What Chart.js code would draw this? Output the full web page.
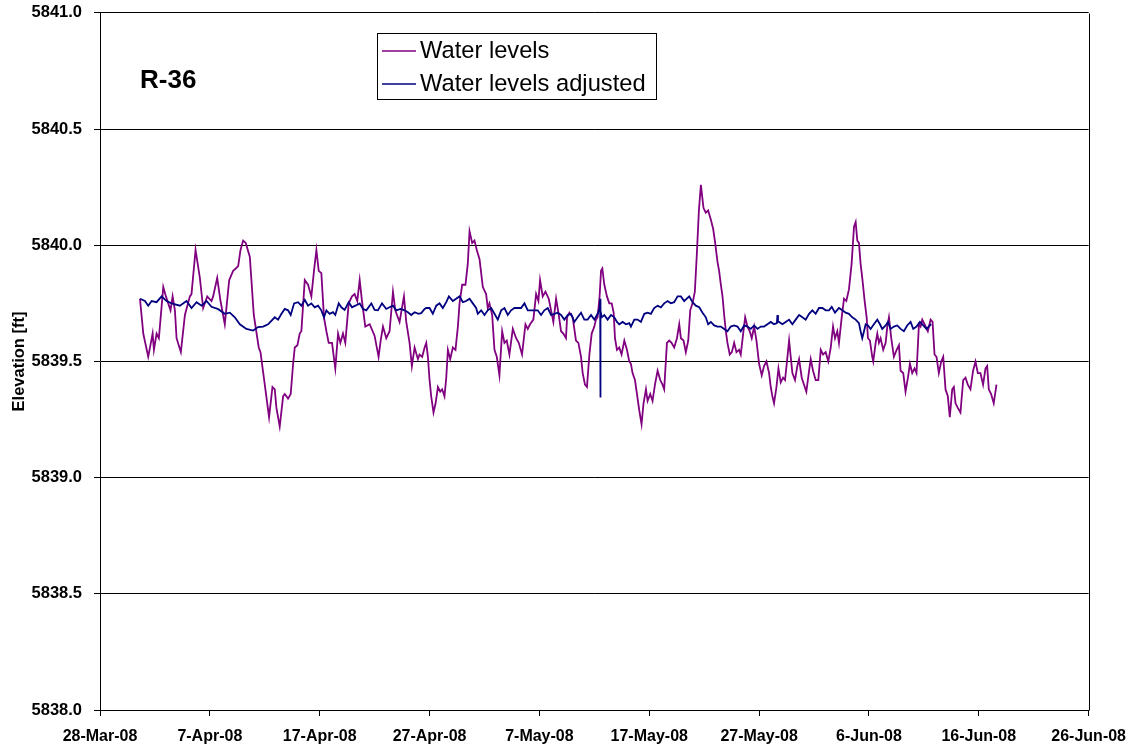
<!DOCTYPE html>
<html>
<head>
<meta charset="utf-8">
<title>R-36</title>
<script src="https://cdn.jsdelivr.net/npm/chart.js@4/dist/chart.umd.min.js"></script>
<style>
  html, body { margin: 0; padding: 0; background: #fff; overflow: hidden; }
  #wrap { position: relative; width: 1129px; height: 747px; overflow: hidden; }
  #chart { position: absolute; left: 0; top: -9px; }
</style>
</head>
<body>
<div id="wrap"><canvas id="chart" width="1137" height="756"></canvas></div>
<script>
// x values are days after 28-Mar-08
const tickDays = [0, 10, 20, 30, 40, 50, 60, 70, 80, 90];
const tickLabels = ['28-Mar-08', '7-Apr-08', '17-Apr-08', '27-Apr-08', '7-May-08',
  '17-May-08', '27-May-08', '6-Jun-08', '16-Jun-08', '26-Jun-08'];

const levelDays = [
  3.64, 3.94, 4.39, 4.79, 4.91, 5.15, 5.36, 5.76, 6.00, 6.42, 6.61, 6.82, 6.97, 7.36, 7.73, 8.18, 8.33, 8.70, 9.09, 9.39,
  9.76, 10.15, 10.30, 10.67, 10.97, 11.36, 11.76, 12.12, 12.36, 12.58, 12.79, 13.03, 13.27, 13.64, 14.00, 14.45, 14.61, 15.00, 15.39, 15.70,
  15.91, 16.06, 16.36, 16.67, 16.82, 17.12, 17.36, 17.58, 17.73, 17.97, 18.18, 18.33, 18.64, 18.94, 19.24, 19.48, 19.70, 19.91, 20.15, 20.39,
  20.61, 20.82, 21.12, 21.42, 21.67, 21.88, 22.12, 22.33, 22.64, 22.94, 23.18, 23.42, 23.64, 23.85, 24.15, 24.55, 25.00, 25.36, 25.55, 25.76,
  26.06, 26.36, 26.67, 26.88, 27.27, 27.67, 27.88, 28.18, 28.39, 28.64, 28.94, 29.09, 29.33, 29.55, 29.70, 29.85, 30.00, 30.15, 30.36, 30.55,
  30.76, 30.97, 31.15, 31.36, 31.52, 31.67, 31.88, 32.12, 32.36, 32.58, 32.73, 32.97, 33.27, 33.48, 33.64, 33.88, 34.09, 34.30, 34.55, 34.85,
  35.15, 35.30, 35.45, 35.70, 35.91, 36.12, 36.36, 36.61, 36.82, 37.03, 37.27, 37.58, 37.88, 38.12, 38.42, 38.73, 38.94, 39.15, 39.45, 39.70,
  39.91, 40.06, 40.30, 40.55, 40.85, 41.06, 41.27, 41.52, 41.76, 41.97, 42.18, 42.42, 42.52, 42.73, 43.03, 43.33, 43.55, 43.79, 43.94, 44.15,
  44.33, 44.55, 44.76, 45.00, 45.15, 45.30, 45.48, 45.61, 45.73, 45.91, 46.15, 46.36, 46.58, 46.76, 46.88, 47.06, 47.27, 47.48, 47.73, 47.97,
  48.18, 48.33, 48.48, 48.70, 48.88, 49.09, 49.30, 49.48, 49.70, 49.85, 50.09, 50.30, 50.52, 50.76, 51.00, 51.21, 51.36, 51.61, 51.82, 52.03,
  52.27, 52.52, 52.73, 52.88, 53.12, 53.33, 53.55, 53.73, 53.94, 54.15, 54.33, 54.52, 54.70, 54.94, 55.15, 55.36, 55.61, 55.82, 56.00, 56.21,
  56.36, 56.52, 56.67, 56.82, 56.97, 57.12, 57.33, 57.52, 57.73, 57.94, 58.18, 58.33, 58.55, 58.73, 58.94, 59.15, 59.33, 59.55, 59.76, 60.00,
  60.24, 60.45, 60.67, 60.91, 61.06, 61.21, 61.36, 61.58, 61.76, 61.97, 62.18, 62.36, 62.58, 62.73, 62.88, 63.03, 63.27, 63.48, 63.64, 63.88,
  64.09, 64.30, 64.55, 64.70, 64.91, 65.15, 65.39, 65.61, 65.82, 66.06, 66.30, 66.52, 66.73, 66.91, 67.12, 67.27, 67.52, 67.73, 67.94, 68.18,
  68.42, 68.64, 68.79, 68.94, 69.09, 69.24, 69.39, 69.61, 69.79, 69.91, 70.09, 70.30, 70.39, 70.61, 70.76, 70.91, 71.06, 71.30, 71.52, 71.67,
  71.82, 72.03, 72.27, 72.52, 72.73, 72.88, 73.12, 73.33, 73.55, 73.73, 73.94, 74.15, 74.33, 74.55, 74.70, 74.85, 75.06, 75.36, 75.61, 75.79,
  75.97, 76.15, 76.36, 76.58, 76.76, 76.97, 77.18, 77.36, 77.58, 77.73, 77.88, 78.09, 78.33, 78.58, 78.79, 79.00, 79.24, 79.48, 79.70, 79.91,
  80.15, 80.39, 80.61, 80.76, 80.91, 81.12, 81.36, 81.61
];
const levelValues = [
  5839.77, 5839.62, 5839.52, 5839.62, 5839.55, 5839.62, 5839.60, 5839.82, 5839.78, 5839.72, 5839.78, 5839.72, 5839.60, 5839.54, 5839.70, 5839.78, 5839.79, 5839.98, 5839.86, 5839.73,
  5839.78, 5839.76, 5839.78, 5839.86, 5839.76, 5839.66, 5839.85, 5839.89, 5839.90, 5839.91, 5839.98, 5840.02, 5840.01, 5839.95, 5839.70, 5839.56, 5839.54, 5839.40, 5839.26, 5839.39,
  5839.38, 5839.30, 5839.22, 5839.35, 5839.36, 5839.34, 5839.36, 5839.49, 5839.56, 5839.57, 5839.62, 5839.63, 5839.85, 5839.83, 5839.78, 5839.89, 5839.98, 5839.89, 5839.88, 5839.69,
  5839.63, 5839.58, 5839.58, 5839.47, 5839.62, 5839.58, 5839.62, 5839.58, 5839.75, 5839.78, 5839.79, 5839.76, 5839.85, 5839.76, 5839.65, 5839.66, 5839.61, 5839.52, 5839.59, 5839.65,
  5839.60, 5839.63, 5839.80, 5839.72, 5839.67, 5839.78, 5839.67, 5839.58, 5839.48, 5839.56, 5839.51, 5839.53, 5839.52, 5839.56, 5839.58, 5839.52, 5839.42, 5839.35, 5839.28, 5839.32,
  5839.39, 5839.37, 5839.38, 5839.35, 5839.43, 5839.55, 5839.51, 5839.56, 5839.55, 5839.65, 5839.75, 5839.83, 5839.83, 5839.92, 5840.06, 5840.01, 5840.02, 5839.98, 5839.94, 5839.82,
  5839.79, 5839.73, 5839.75, 5839.70, 5839.55, 5839.52, 5839.44, 5839.63, 5839.58, 5839.59, 5839.53, 5839.64, 5839.60, 5839.58, 5839.53, 5839.66, 5839.64, 5839.66, 5839.68, 5839.79,
  5839.76, 5839.85, 5839.78, 5839.80, 5839.77, 5839.72, 5839.67, 5839.77, 5839.70, 5839.63, 5839.62, 5839.60, 5839.69, 5839.71, 5839.69, 5839.59, 5839.58, 5839.52, 5839.45, 5839.40,
  5839.39, 5839.53, 5839.62, 5839.65, 5839.68, 5839.69, 5839.78, 5839.89, 5839.90, 5839.83, 5839.78, 5839.75, 5839.75, 5839.71, 5839.60, 5839.55, 5839.56, 5839.53, 5839.59, 5839.55,
  5839.50, 5839.49, 5839.45, 5839.42, 5839.36, 5839.29, 5839.23, 5839.32, 5839.38, 5839.33, 5839.36, 5839.33, 5839.40, 5839.46, 5839.42, 5839.40, 5839.38, 5839.58, 5839.59, 5839.58,
  5839.56, 5839.60, 5839.66, 5839.60, 5839.59, 5839.54, 5839.59, 5839.72, 5839.75, 5839.80, 5839.96, 5840.15, 5840.26, 5840.16, 5840.14, 5840.15, 5840.11, 5840.07, 5840.01, 5839.93,
  5839.89, 5839.83, 5839.78, 5839.70, 5839.63, 5839.58, 5839.53, 5839.54, 5839.58, 5839.54, 5839.55, 5839.53, 5839.62, 5839.69, 5839.65, 5839.63, 5839.60, 5839.65, 5839.59, 5839.49,
  5839.44, 5839.48, 5839.50, 5839.45, 5839.39, 5839.35, 5839.32, 5839.39, 5839.47, 5839.41, 5839.43, 5839.42, 5839.52, 5839.59, 5839.52, 5839.45, 5839.42, 5839.48, 5839.51, 5839.43,
  5839.40, 5839.37, 5839.46, 5839.51, 5839.46, 5839.42, 5839.42, 5839.55, 5839.53, 5839.54, 5839.50, 5839.56, 5839.65, 5839.60, 5839.63, 5839.58, 5839.69, 5839.77, 5839.76, 5839.81,
  5839.92, 5840.08, 5840.10, 5840.02, 5840.01, 5839.92, 5839.86, 5839.76, 5839.69, 5839.60, 5839.59, 5839.52, 5839.50, 5839.58, 5839.62, 5839.58, 5839.60, 5839.55, 5839.58, 5839.65,
  5839.69, 5839.60, 5839.52, 5839.55, 5839.57, 5839.46, 5839.45, 5839.37, 5839.43, 5839.49, 5839.45, 5839.47, 5839.45, 5839.66, 5839.65, 5839.68, 5839.66, 5839.63, 5839.68, 5839.67,
  5839.53, 5839.52, 5839.45, 5839.50, 5839.52, 5839.38, 5839.35, 5839.26, 5839.38, 5839.39, 5839.32, 5839.30, 5839.28, 5839.42, 5839.43, 5839.40, 5839.38, 5839.46, 5839.50, 5839.45,
  5839.45, 5839.40, 5839.47, 5839.48, 5839.38, 5839.36, 5839.32, 5839.40
];

const adjustedDays = [
  3.64, 4.09, 4.39, 4.70, 5.15, 5.61, 6.06, 6.52, 7.27, 7.88, 8.33, 8.79, 9.24, 9.70, 10.15, 10.76, 11.36, 11.82, 12.27, 12.73,
  13.33, 13.94, 14.39, 14.85, 15.30, 15.91, 16.21, 16.52, 16.82, 17.12, 17.36, 17.67, 18.03, 18.33, 18.64, 18.94, 19.24, 19.55, 19.85, 20.15,
  20.39, 20.61, 20.91, 21.21, 21.42, 21.73, 21.97, 22.27, 22.64, 22.94, 23.24, 23.64, 23.94, 24.24, 24.70, 25.00, 25.30, 25.67, 26.06, 26.36,
  26.67, 26.97, 27.36, 27.73, 28.03, 28.33, 28.64, 29.00, 29.24, 29.55, 29.70, 30.00, 30.30, 30.61, 30.91, 31.21, 31.52, 31.76, 32.12, 32.42,
  32.73, 33.03, 33.33, 33.64, 33.94, 34.24, 34.39, 34.70, 35.00, 35.30, 35.61, 35.91, 36.21, 36.52, 36.82, 37.12, 37.42, 37.73, 38.03, 38.33,
  38.64, 38.94, 39.24, 39.55, 39.85, 40.15, 40.45, 40.76, 41.06, 41.36, 41.67, 41.97, 42.27, 42.58, 42.88, 43.18, 43.48, 43.79, 44.09, 44.39,
  44.70, 45.00, 45.30, 45.48, 45.53, 45.55, 45.57, 45.67, 45.91, 46.21, 46.52, 46.82, 47.06, 47.27, 47.58, 47.88, 48.18, 48.33, 48.64, 48.94,
  49.24, 49.55, 49.85, 50.15, 50.45, 50.76, 51.06, 51.36, 51.67, 51.97, 52.27, 52.58, 52.88, 53.18, 53.64, 53.94, 54.24, 54.55, 54.85, 55.15,
  55.36, 55.61, 55.91, 56.21, 56.52, 56.82, 57.12, 57.42, 57.73, 58.03, 58.33, 58.64, 58.94, 59.24, 59.55, 59.85, 60.15, 60.45, 60.76, 61.06,
  61.36, 61.62, 61.67, 61.72, 61.82, 62.12, 62.42, 62.73, 63.03, 63.33, 63.64, 63.94, 64.24, 64.55, 64.85, 65.15, 65.45, 65.76, 66.06, 66.36,
  66.61, 66.91, 67.27, 67.58, 67.88, 68.18, 68.48, 68.79, 69.09, 69.24, 69.39, 69.55, 69.70, 69.91, 70.15, 70.45, 70.76, 71.00, 71.21, 71.52,
  71.73, 71.97, 72.27, 72.58, 72.88, 73.18, 73.48, 73.79, 74.03, 74.33, 74.64, 74.94, 75.24, 75.55, 75.67
];
const adjustedValues = [
  5839.77, 5839.76, 5839.74, 5839.76, 5839.755, 5839.78, 5839.76, 5839.75, 5839.74, 5839.76, 5839.73, 5839.755, 5839.74, 5839.76, 5839.735, 5839.725, 5839.705, 5839.71, 5839.69, 5839.66,
  5839.64, 5839.633, 5839.648, 5839.65, 5839.66, 5839.69, 5839.68, 5839.705, 5839.726, 5839.72, 5839.70, 5839.75, 5839.755, 5839.74, 5839.765, 5839.74, 5839.75, 5839.733, 5839.74, 5839.72,
  5839.69, 5839.72, 5839.705, 5839.712, 5839.70, 5839.75, 5839.733, 5839.722, 5839.755, 5839.733, 5839.74, 5839.75, 5839.726, 5839.72, 5839.75, 5839.722, 5839.72, 5839.75, 5839.726, 5839.733,
  5839.74, 5839.72, 5839.726, 5839.72, 5839.712, 5839.70, 5839.712, 5839.705, 5839.708, 5839.726, 5839.73, 5839.73, 5839.705, 5839.74, 5839.75, 5839.73, 5839.755, 5839.78, 5839.76, 5839.77,
  5839.78, 5839.755, 5839.76, 5839.77, 5839.75, 5839.73, 5839.705, 5839.72, 5839.70, 5839.72, 5839.73, 5839.705, 5839.68, 5839.72, 5839.73, 5839.70, 5839.72, 5839.73, 5839.73, 5839.73,
  5839.75, 5839.72, 5839.72, 5839.72, 5839.72, 5839.70, 5839.72, 5839.73, 5839.70, 5839.705, 5839.71, 5839.70, 5839.68, 5839.70, 5839.705, 5839.67, 5839.69, 5839.71, 5839.68, 5839.68,
  5839.70, 5839.68, 5839.705, 5839.73, 5839.77, 5839.345, 5839.72, 5839.69, 5839.70, 5839.68, 5839.70, 5839.69, 5839.67, 5839.66, 5839.67, 5839.66, 5839.665, 5839.65, 5839.68, 5839.68,
  5839.67, 5839.705, 5839.71, 5839.705, 5839.73, 5839.74, 5839.733, 5839.75, 5839.76, 5839.75, 5839.755, 5839.78, 5839.78, 5839.76, 5839.78, 5839.755, 5839.74, 5839.733, 5839.71, 5839.69,
  5839.66, 5839.67, 5839.655, 5839.65, 5839.65, 5839.64, 5839.63, 5839.65, 5839.655, 5839.65, 5839.63, 5839.655, 5839.65, 5839.64, 5839.655, 5839.64, 5839.65, 5839.65, 5839.66, 5839.67,
  5839.66, 5839.665, 5839.70, 5839.67, 5839.67, 5839.66, 5839.67, 5839.68, 5839.66, 5839.68, 5839.70, 5839.69, 5839.68, 5839.705, 5839.72, 5839.705, 5839.73, 5839.73, 5839.72, 5839.72,
  5839.735, 5839.71, 5839.73, 5839.72, 5839.71, 5839.705, 5839.69, 5839.68, 5839.665, 5839.63, 5839.60, 5839.63, 5839.66, 5839.655, 5839.64, 5839.66, 5839.68, 5839.66, 5839.64, 5839.655,
  5839.67, 5839.64, 5839.65, 5839.655, 5839.64, 5839.63, 5839.655, 5839.67, 5839.64, 5839.65, 5839.67, 5839.655, 5839.64, 5839.655, 5839.66
];

const seriesNames = ['Water levels', 'Water levels adjusted'];
const seriesColors = ['#800080', '#000080'];
const wellName = 'R-36';

const toPoints = (xs, ys) => xs.map((x, i) => ({ x: x, y: ys[i] }));

const FONT = '"Liberation Sans", Arial, Helvetica, sans-serif';
// the canvas sits 9px above the page top
const SHIFT = 9;

// chart frame, legend box and well name
const extras = {
  id: 'extras',
  afterDraw(chart) {
    const ctx = chart.ctx;
    const area = chart.chartArea;
    ctx.save();
    ctx.strokeStyle = '#000';
    ctx.lineWidth = 1;
    ctx.beginPath();
    ctx.moveTo(Math.round(area.right) + 0.5, Math.round(area.top) + 0.5);
    ctx.lineTo(Math.round(area.right) + 0.5, Math.round(area.bottom) + 0.5);
    ctx.stroke();

    ctx.fillStyle = '#000';
    ctx.font = 'bold 26px ' + FONT;
    ctx.textBaseline = 'alphabetic';
    ctx.textAlign = 'left';
    ctx.fillText(wellName, 140, 88 + SHIFT);

    // legend
    const lx = 377, ly = 33 + SHIFT, lw = 279, lh = 66;
    ctx.fillStyle = '#fff';
    ctx.fillRect(lx, ly, lw, lh);
    ctx.strokeStyle = '#000';
    ctx.strokeRect(lx + 0.5, ly + 0.5, lw, lh);
    ctx.font = '23.7px ' + FONT;
    ctx.textBaseline = 'alphabetic';
    seriesNames.forEach((name, i) => {
      const y = ly + 18 + i * 33;
      ctx.strokeStyle = seriesColors[i];
      ctx.lineWidth = 1.5;
      ctx.beginPath();
      ctx.moveTo(lx + 5, y);
      ctx.lineTo(lx + 39, y);
      ctx.stroke();
      ctx.fillStyle = '#000';
      ctx.fillText(name, lx + 43, y + 7);
    });
    ctx.restore();
  }
};

new Chart(document.getElementById('chart'), {
  type: 'line',
  data: {
    datasets: [{
      label: seriesNames[0],
      data: toPoints(levelDays, levelValues),
      borderColor: seriesColors[0],
      borderWidth: 1.8,
      pointRadius: 0,
      tension: 0,
      order: 1
    }, {
      label: seriesNames[1],
      data: toPoints(adjustedDays, adjustedValues),
      borderColor: seriesColors[1],
      borderWidth: 1.8,
      pointRadius: 0,
      tension: 0,
      order: 0
    }]
  },
  options: {
    responsive: false,
    animation: false,
    devicePixelRatio: 1,
    parsing: false,
    layout: { padding: { top: 3, right: 40, left: 0, bottom: 0 } },
    plugins: {
      legend: { display: false },
      tooltip: { enabled: false }
    },
    scales: {
      x: {
        type: 'linear',
        min: 0,
        max: 90,
        afterBuildTicks: (scale) => { scale.ticks = tickDays.map(v => ({ value: v })); },
        afterFit: (scale) => { scale.height = 37; },
        ticks: {
          callback: (value) => tickLabels[tickDays.indexOf(value)],
          font: { family: FONT, size: 16, weight: 'bold' },
          color: '#000',
          maxRotation: 0,
          autoSkip: false,
          padding: 11
        },
        grid: { drawOnChartArea: false, drawTicks: true, tickLength: 6, color: '#000' },
        border: { color: '#000' }
      },
      y: {
        min: 5838,
        max: 5841,
        afterFit: (scale) => { scale.width = 100; },
        ticks: {
          stepSize: 0.5,
          callback: (value) => value.toFixed(1),
          font: { family: FONT, size: 16.5, weight: 'bold' },
          color: '#000',
          padding: 12
        },
        grid: { color: '#000', tickLength: 6 },
        border: { color: '#000' },
        title: {
          display: true,
          text: 'Elevation [ft]',
          font: { family: FONT, size: 16.5, weight: 'bold' },
          color: '#000',
          padding: { top: 10, bottom: 0 }
        }
      }
    }
  },
  plugins: [extras]
});
</script>
</body>
</html>
